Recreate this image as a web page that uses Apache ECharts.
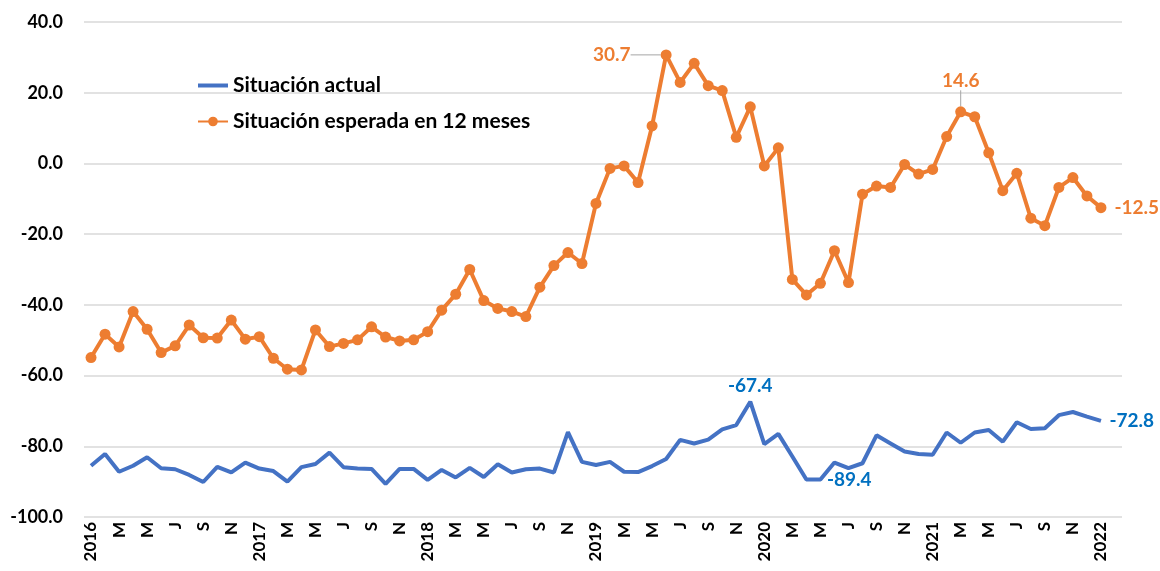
<!DOCTYPE html>
<html>
<head>
<meta charset="utf-8">
<script src="https://cdn.jsdelivr.net/npm/echarts@6/dist/echarts.min.js"></script>
<style>
html,body{margin:0;padding:0;background:#fff;}
#chart{width:1160px;height:571px;}
</style>
</head>
<body>
<div id="chart"></div>
<script>
// Monthly categories Jan 2016 .. Feb 2022 (last slot empty, as in the source)
const monthLetters = ['E','F','M','A','M','J','J','A','S','O','N','D'];
const years = [2016, 2017, 2018, 2019, 2020, 2021, 2022];
const categories = [];
years.forEach(function (y) {
  monthLetters.forEach(function (m, i) {
    if (y === 2022 && i > 1) return;
    categories.push(i === 0 ? String(y) : m);
  });
});

const actualName = 'Situación actual';
const expectedName = 'Situación esperada en 12 meses';

const actualValues = [
  -85.5, -82.2, -87.2, -85.5, -83.1, -86.2, -86.5, -88.1, -90.1, -85.8, -87.4, -84.6,
  -86.3, -87.0, -90.0, -85.9, -85.0, -81.8, -85.9, -86.3, -86.4, -90.6, -86.4, -86.4,
  -89.5, -86.7, -88.8, -86.1, -88.7, -85.1, -87.4, -86.5, -86.3, -87.4, -76.0, -84.4,
  -85.3, -84.4, -87.2, -87.3, -85.6, -83.6, -78.2, -79.2, -78.1, -75.2, -74.0, -67.4,
  -79.4, -76.5, -82.9, -89.4, -89.4, -84.6, -86.2, -84.8, -76.9, -79.2, -81.5, -82.2,
  -82.4, -76.1, -79.0, -76.1, -75.4, -78.7, -73.2, -75.1, -74.9, -71.2, -70.3, -71.6,
  -72.8
];

const expectedValues = [
  -54.9, -48.3, -51.9, -41.9, -46.9, -53.5, -51.6, -45.7, -49.3, -49.4, -44.3, -49.7,
  -49.0, -55.1, -58.2, -58.4, -47.1, -51.8, -50.9, -49.9, -46.2, -49.1, -50.2, -49.9,
  -47.6, -41.5, -37.0, -30.0, -38.8, -41.0, -41.9, -43.3, -35.0, -28.9, -25.2, -28.3,
  -11.3, -1.4, -0.7, -5.4, 10.6, 30.7, 22.9, 28.3, 22.0, 20.6, 7.4, 16.0,
  -0.7, 4.4, -32.8, -37.2, -33.9, -24.7, -33.7, -8.7, -6.4, -6.8, -0.3, -3.0,
  -1.7, 7.6, 14.6, 13.2, 3.0, -7.7, -2.8, -15.5, -17.6, -6.8, -4.0, -9.2,
  -12.5
];

const yMin = -100, yMax = 40, yStep = 20;

const blue = '#4472C4', orange = '#ED7D31', blueLabel = '#0070C0';
const fontFam = 'Lato, "Open Sans", sans-serif';

function labelled(values, specs, color) {
  return values.map(function (v, i) {
    const s = specs[i];
    if (!s) return v;
    const item = {
      value: v,
      label: Object.assign({
        show: true, color: color, fontWeight: 'bold', fontSize: 19, fontFamily: fontFam,
        overflow: 'none',
        formatter: function (p) { return p.value.toFixed(1); }
      }, s.label)
    };
    if (s.guide) {
      item.labelLine = { show: true, lineStyle: { color: '#a6a6a6', width: 1 } };
    }
    return item;
  });
}

const expSpecs = {};
expSpecs[41] = { label: { position: 'left', distance: 30, offset: [0, -3] }, guide: true };
expSpecs[62] = { label: { position: 'top', distance: 16 }, guide: true };
expSpecs[72] = { label: { position: 'right', distance: 8 } };
const actSpecs = {};
actSpecs[47] = { label: { position: 'top', distance: 6 } };
actSpecs[52] = { label: { position: 'right', distance: 6, offset: [0, 4] } };
actSpecs[72] = { label: { position: 'right', distance: 8 } };

const chart = echarts.init(document.getElementById('chart'));
chart.setOption({
  animation: false,
  backgroundColor: '#fff',
  grid: { left: 84, right: 38, top: 22, bottom: 54, containLabel: false },
  legend: {
    orient: 'vertical',
    left: 192,
    top: 70,
    itemGap: 15,
    itemWidth: 30,
    itemHeight: 12,
    textStyle: { fontSize: 21, fontWeight: 'bold', color: '#000', fontFamily: fontFam },
    data: [
      { name: actualName, icon: 'path://M0,4 L30,4 L30,8 L0,8 Z', itemStyle: { color: blue } },
      { name: expectedName }
    ]
  },
  xAxis: {
    type: 'category',
    data: categories,
    boundaryGap: true,
    axisLine: { show: false },
    axisTick: { show: false },
    axisLabel: {
      interval: 1, rotate: 90, fontSize: 17, fontWeight: 'bold', color: '#000',
      fontFamily: fontFam, margin: 5
    },
    splitLine: { show: false }
  },
  yAxis: {
    type: 'value',
    min: yMin, max: yMax, interval: yStep,
    axisLine: { show: false },
    axisTick: { show: false },
    axisLabel: {
      fontSize: 18, fontWeight: 'bold', color: '#000', fontFamily: fontFam, margin: 21,
      formatter: function (v) { return v.toFixed(1); }
    },
    splitLine: { lineStyle: { color: '#d9d9d9', width: 1.5 } }
  },
  series: [
    {
      name: actualName,
      type: 'line',
      data: labelled(actualValues, actSpecs, blueLabel),
      symbol: 'circle',
      symbolSize: 1,
      showAllSymbol: true,
      lineStyle: { color: blue, width: 4 },
      itemStyle: { color: 'rgba(0,0,0,0)' },
      labelLayout: { hideOverlap: false },
      z: 2
    },
    {
      name: expectedName,
      type: 'line',
      data: labelled(expectedValues, expSpecs, orange),
      symbol: 'circle',
      symbolSize: 11,
      showSymbol: true,
      showAllSymbol: true,
      lineStyle: { color: orange, width: 4 },
      itemStyle: { color: orange },
      labelLayout: { hideOverlap: false },
      z: 3
    }
  ]
});
</script>
</body>
</html>
